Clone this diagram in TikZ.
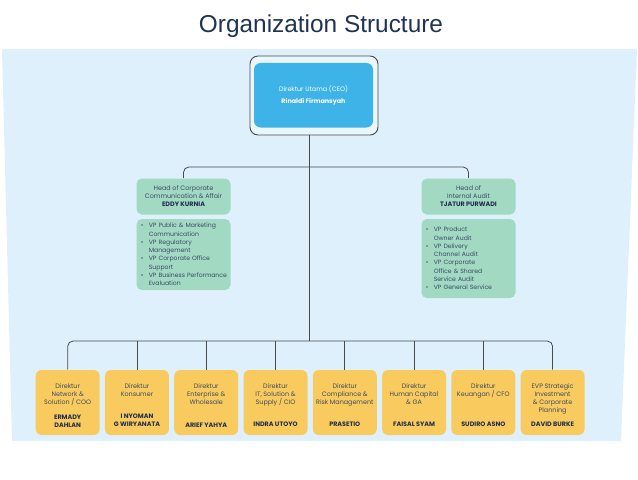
\documentclass[tikz,border=0pt]{standalone}
\usepackage{fontspec}
\setmainfont{Poppins}
\newfontfamily\titlefont{Liberation Sans}
\usetikzlibrary{positioning}

\definecolor{panelblue}{HTML}{DEF0FB}
\definecolor{ceoblue}{HTML}{3DB3E7}
\definecolor{framefill}{HTML}{EAF6FC}
\definecolor{mintgreen}{HTML}{A1D9C3}
\definecolor{diryellow}{HTML}{F9CB5E}
\definecolor{textnavy}{HTML}{3C4A63}
\definecolor{namenavy}{HTML}{1F2D4A}
\definecolor{titlenavy}{HTML}{1F3352}
\definecolor{linkgray}{HTML}{4A4A4A}

\newcommand{\vpitem}[1]{\makebox[6pt][l]{\textbullet}\mbox{#1}}
\newcommand{\vpcont}[1]{\hspace*{6pt}\mbox{#1}}

\begin{document}
\begin{tikzpicture}[x=0.75pt, y=-0.75pt,
    every node/.style={font=\fontsize{4.8}{6}\selectfont, text=textnavy, align=center, inner sep=0pt},
    link/.style={draw=linkgray, line width=0.6pt},
    headbox/.style={fill=mintgreen, rounded corners=4pt, minimum width=70.5pt, minimum height=27pt},
    listbox/.style={fill=mintgreen, rounded corners=4pt, text width=64pt, inner xsep=3.25pt, align=left,
        font=\fontsize{4.6}{6.2}\selectfont},
    dirbox/.style={fill=diryellow, rounded corners=4.5pt, minimum width=48pt, minimum height=48.75pt}]
    \useasboundingbox (0,0) rectangle (638,479);

    \fill[panelblue] (2,49) -- (637,49) -- (621,441) -- (12,441) -- cycle;

    \node[anchor=base, font=\titlefont\fontsize{18.3}{22}\selectfont, text=titlenavy] (title) at (321,32) {Organization Structure};

    \node[draw=linkgray, line width=0.7pt, fill=framefill, rounded corners=6pt,
          minimum width=96pt, minimum height=59.25pt] (ceoframe) at (314,95.5) {};
    \node[fill=ceoblue, rounded corners=5pt, minimum width=89.25pt, minimum height=48.4pt, text=white]
        (ceo) at (313.5,95.25) {Direktur Utama (CEO)\\[3.5pt]\textbf{Rinaldi Firmansyah}};

    \coordinate (upbus) at (309,167);
    \coordinate (lowbus) at (309,341);

    \node[headbox] (headcc) at (183.5,196.5) {Head of Corporate\\Communication \& Affair\\\textbf{\color{namenavy}EDDY KURNIA}};
    \node[headbox] (headia) at (468.5,196.5) {Head of\\Internal Audit\\\textbf{\color{namenavy}TJATUR PURWADI}};

    \node[listbox, minimum height=53.25pt, below=3pt of headcc] (listcc) {%
        \vpitem{VP Public \& Marketing}\\ \vpcont{Communication}\\
        \vpitem{VP Regulatory}\\ \vpcont{Management}\\
        \vpitem{VP Corporate Office}\\ \vpcont{Support}\\
        \vpitem{VP Business Performance}\\ \vpcont{Evaluation}};
    \node[listbox, minimum height=59.25pt, below=3pt of headia] (listia) {%
        \vpitem{VP Product}\\ \vpcont{Owner Audit}\\
        \vpitem{VP Delivery}\\ \vpcont{Channel Audit}\\
        \vpitem{VP Corporate}\\ \vpcont{Office \& Shared}\\
        \vpcont{Service Audit}\\
        \vpitem{VP General Service}};

    \foreach \desc/\name [count=\i] in {
        {Direktur\\Network \&\\Solution / COO}/{ERMADY\\DAHLAN},
        {Direktur\\Konsumer}/{I NYOMAN\\G WIRYANATA},
        {Direktur\\Enterprise \&\\Wholesale}/{ARIEF YAHYA},
        {Direktur\\IT, Solution \&\\Supply / CIO}/{INDRA UTOYO},
        {Direktur\\Compliance \&\\Risk Management}/{PRASETIO},
        {Direktur\\Human Capital\\\& GA}/{FAISAL SYAM},
        {Direktur\\Keuangan / CFO}/{SUDIRO ASNO},
        {EVP Strategic\\Investment\\\& Corporate\\Planning}/{DAVID BURKE}} {
        \node[dirbox] (dir\i) at ({67.7+69.27*(\i-1)},402.5) {};
        \node[anchor=north] (desc\i) at ([yshift=-10.5pt]dir\i.north) {\desc};
        \node[anchor=south, font=\fontsize{4.8}{6}\selectfont\bfseries, text=namenavy] (name\i) at ([yshift=6pt]dir\i.south) {\name};
    }

    \draw[link] (ceoframe.south -| lowbus) -- (lowbus);
    \draw[link, rounded corners=4pt] (headcc.north) |- (upbus) -| (headia.north);
    \draw[link, rounded corners=4pt] (dir1.north) |- (lowbus) -| (dir8.north);
    \foreach \i in {2,...,7}
        \draw[link] (dir\i.north) -- (dir\i.north |- lowbus);
\end{tikzpicture}
\end{document}
